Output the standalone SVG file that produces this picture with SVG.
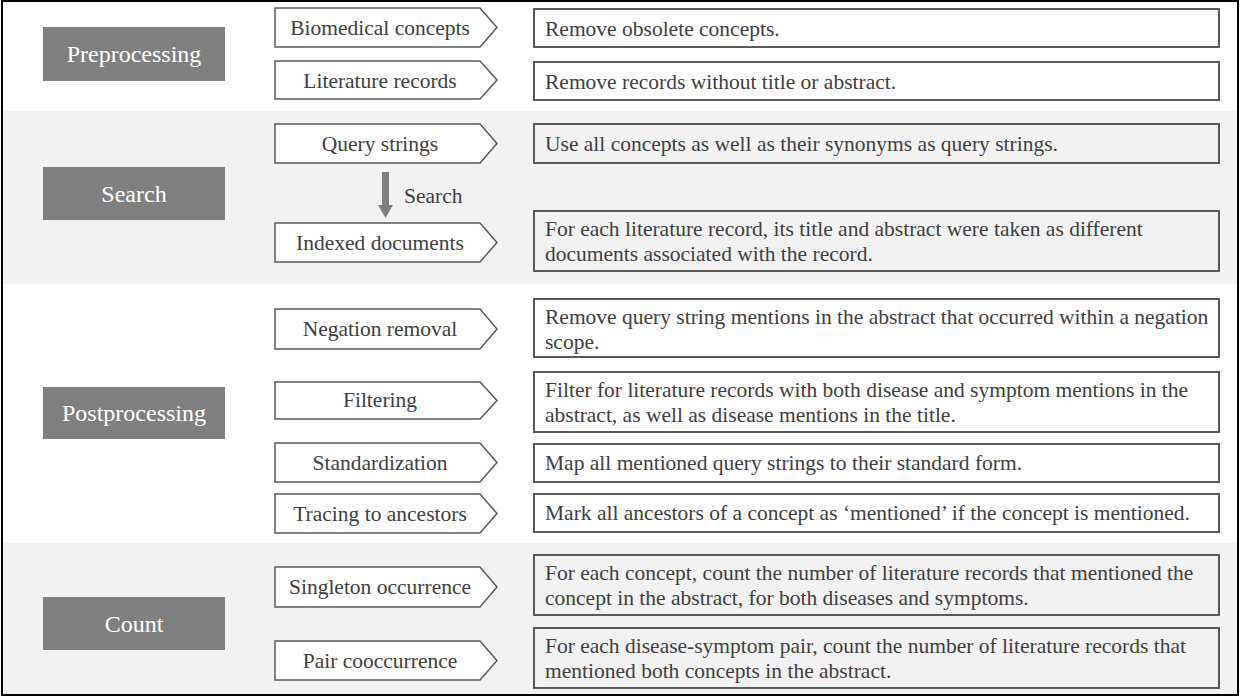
<svg xmlns="http://www.w3.org/2000/svg" width="1241" height="699" viewBox="0 0 1241 699">
<style>
.band{fill:#f2f2f2;stroke:none}
.stage rect{fill:#7f7f7f;stroke:none}
.stage text{fill:#ffffff;font-size:24px;text-anchor:middle}
.step path{fill:#ffffff;stroke:#595959;stroke-width:1.5}
.step text{fill:#404040;font-size:21.5px;text-anchor:middle}
.desc rect{fill:#ffffff;stroke:#595959;stroke-width:2}
.band-g .desc rect{fill:#f2f2f2}
.desc text{fill:#404040;font-size:21.5px}
.lbl{fill:#404040;font-size:21.5px}
</style>
<rect x="0" y="0" width="1241" height="699" fill="#ffffff"/>
<rect class="band" x="4" y="111" width="1233" height="173"/>
<rect class="band" x="4" y="543" width="1233" height="152"/>
<g font-family="'Liberation Serif', 'Times New Roman', serif">
<g id="preprocessing" class="stage"><rect x="43" y="27" width="182" height="54"/><text x="134" y="62">Preprocessing</text></g>
<g id="search" class="stage"><rect x="43" y="167" width="182" height="53"/><text x="134" y="202">Search</text></g>
<g id="postprocessing" class="stage"><rect x="43" y="387" width="182" height="52"/><text x="134" y="421">Postprocessing</text></g>
<g id="count" class="stage"><rect x="43" y="597" width="182" height="53"/><text x="134" y="632">Count</text></g>

<g id="step-biomedical" class="step"><path d="M275,8H480L497,27.5L480,47H275Z"/><text x="380" y="35">Biomedical concepts</text></g>
<g id="step-literature" class="step"><path d="M275,61H480L497,80L480,99H275Z"/><text x="380" y="88">Literature records</text></g>
<g id="step-query" class="step"><path d="M275,124H480L497,143.5L480,163H275Z"/><text x="380" y="151">Query strings</text></g>
<g id="step-indexed" class="step"><path d="M275,223H480L497,242.5L480,262H275Z"/><text x="380" y="250">Indexed documents</text></g>
<g id="step-negation" class="step"><path d="M275,309H480L497,329L480,349H275Z"/><text x="380" y="336">Negation removal</text></g>
<g id="step-filtering" class="step"><path d="M275,382H480L497,400.5L480,419H275Z"/><text x="380" y="407">Filtering</text></g>
<g id="step-standardization" class="step"><path d="M275,443H480L497,462.5L480,482H275Z"/><text x="380" y="470">Standardization</text></g>
<g id="step-tracing" class="step"><path d="M275,494H480L497,513.5L480,533H275Z"/><text x="380" y="521">Tracing to ancestors</text></g>
<g id="step-singleton" class="step"><path d="M275,567H480L497,587L480,607H275Z"/><text x="380" y="594">Singleton occurrence</text></g>
<g id="step-pair" class="step"><path d="M275,641H480L497,660.5L480,680H275Z"/><text x="380" y="668">Pair cooccurrence</text></g>

<g id="desc-1" class="desc"><rect x="534" y="9" width="685" height="38"/><text x="545" y="36">Remove obsolete concepts.</text></g>
<g id="desc-2" class="desc"><rect x="534" y="62" width="685" height="38"/><text x="545" y="89">Remove records without title or abstract.</text></g>
<g class="band-g">
<g id="desc-3" class="desc"><rect x="534" y="124" width="685" height="39"/><text x="545" y="151">Use all concepts as well as their synonyms as query strings.</text></g>
<g id="desc-4" class="desc"><rect x="534" y="211" width="685" height="60"/><text x="545" y="236">For each literature record, its title and abstract were taken as different</text><text x="545" y="261">documents associated with the record.</text></g>
</g>
<g id="desc-5" class="desc"><rect x="534" y="299" width="685" height="58"/><text x="545" y="324">Remove query string mentions in the abstract that occurred within a negation</text><text x="545" y="349">scope.</text></g>
<g id="desc-6" class="desc"><rect x="534" y="372" width="685" height="60"/><text x="545" y="397">Filter for literature records with both disease and symptom mentions in the</text><text x="545" y="422">abstract, as well as disease mentions in the title.</text></g>
<g id="desc-7" class="desc"><rect x="534" y="444" width="685" height="38"/><text x="545" y="470">Map all mentioned query strings to their standard form.</text></g>
<g id="desc-8" class="desc"><rect x="534" y="494" width="685" height="38"/><text x="545" y="520">Mark all ancestors of a concept as ‘mentioned’ if the concept is mentioned.</text></g>
<g class="band-g">
<g id="desc-9" class="desc"><rect x="534" y="555" width="685" height="60"/><text x="545" y="580">For each concept, count the number of literature records that mentioned the</text><text x="545" y="605">concept in the abstract, for both diseases and symptoms.</text></g>
<g id="desc-10" class="desc"><rect x="534" y="628" width="685" height="60"/><text x="545" y="653">For each disease-symptom pair, count the number of literature records that</text><text x="545" y="678">mentioned both concepts in the abstract.</text></g>
</g>

<g id="connectors">
<rect x="382" y="172" width="7" height="34" fill="#7f7f7f"/>
<polygon points="378,205 393,205 385.5,218" fill="#7f7f7f"/>
<text class="lbl" x="404" y="203">Search</text>
</g>
</g>
<rect x="2" y="1" width="1236" height="694" fill="none" stroke="#000000" stroke-width="2"/>
</svg>
